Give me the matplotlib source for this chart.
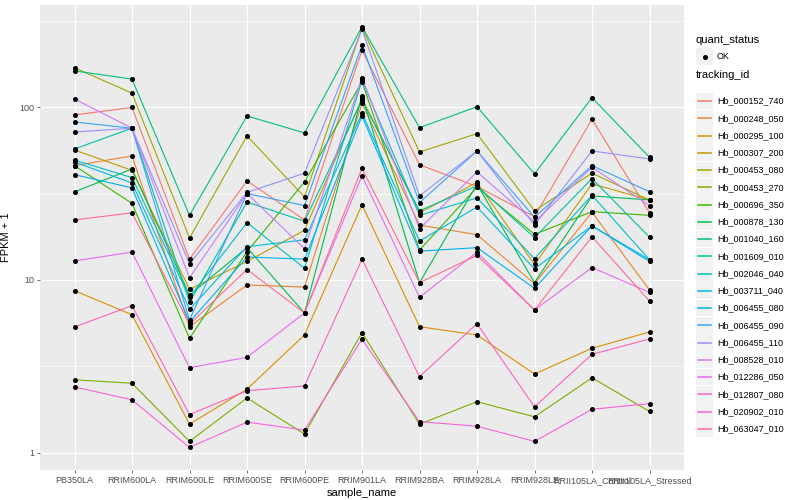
import matplotlib
matplotlib.use("Agg")
import matplotlib.pyplot as plt
from matplotlib.lines import Line2D
from matplotlib.patches import Rectangle
from matplotlib.ticker import FixedLocator, NullFormatter

plt.rcParams['font.family'] = ['Liberation Sans', 'DejaVu Sans']

samples = ["PB350LA", "RRIM600LA", "RRIM600LE", "RRIM600SE", "RRIM600PE",
           "RRIM901LA", "RRIM928BA", "RRIM928LA", "RRIM928LE",
           "RRII105LA_Control", "RRII105LA_Stressed"]

tracking_ids = ["Hb_000152_740", "Hb_000248_050", "Hb_000295_100", "Hb_000307_200",
                "Hb_000453_080", "Hb_000453_270", "Hb_000696_350", "Hb_000878_130",
                "Hb_001040_160", "Hb_001609_010", "Hb_002046_040", "Hb_003711_040",
                "Hb_006455_080", "Hb_006455_090", "Hb_006455_110", "Hb_008528_010",
                "Hb_012286_050", "Hb_012807_080", "Hb_020902_010", "Hb_063047_010"]

# FPKM + 1 values, per gene, across the samples above
hb_000152_740 = [90.5, 100, 13.2, 37.5, 22.3, 215, 46.6, 34.8, 23.3, 85.5, 24.5]
hb_000248_050 = [46.0, 52.4, 5.36, 9.35, 9.10, 106, 20.8, 18.3, 9.52, 24.7, 8.75]
hb_000295_100 = [8.67, 6.29, 1.46, 2.33, 4.80, 27.3, 5.36, 4.80, 2.85, 4.02, 5.00]
hb_000307_200 = [56.7, 43.2, 8.83, 12.8, 19.4, 113, 24.5, 36.8, 12.3, 36.1, 29.1]
hb_000453_080 = [170, 121, 17.5, 68.4, 30.3, 289, 55.2, 70.5, 25.2, 41.6, 29.1]
hb_000453_270 = [2.64, 2.52, 1.16, 2.07, 1.28, 4.95, 1.46, 1.97, 1.61, 2.71, 1.73]
hb_000696_350 = [46.0, 27.8, 4.59, 14.6, 37.0, 141, 14.9, 34.5, 18.4, 24.9, 23.7]
hb_000878_130 = [32.4, 44.0, 8.19, 15.4, 6.44, 117, 9.65, 35.9, 9.65, 30.7, 29.1]
hb_001040_160 = [163, 146, 23.7, 89.3, 71.2, 294, 76.4, 101, 41.2, 114, 51.4]
hb_001609_010 = [57.5, 75.8, 7.43, 28.3, 21.9, 110, 25.2, 35.1, 17.6, 38.7, 17.7]
hb_002046_040 = [49.6, 39.2, 7.94, 21.5, 11.7, 144, 23.7, 29.9, 13.3, 31.0, 13.1]
hb_003711_040 = [48.3, 36.5, 6.76, 15.6, 17.1, 92.5, 16.8, 26.5, 11.6, 20.6, 12.8]
hb_006455_080 = [40.8, 34.2, 5.71, 13.6, 13.2, 89.3, 14.7, 15.4, 8.95, 20.6, 13.1]
hb_006455_090 = [82.4, 75.8, 5.86, 31.7, 27.0, 230, 28.1, 56.0, 23.1, 46.0, 32.5]
hb_006455_110 = [72.1, 75.8, 12.4, 32.2, 41.6, 284, 30.7, 56.0, 20.8, 56.0, 50.3]
hb_008528_010 = [112, 75.8, 10.3, 31.7, 15.2, 149, 19.8, 42.3, 21.7, 45.0, 27.0]
hb_012286_050 = [12.9, 14.5, 3.10, 3.56, 6.44, 40.1, 7.94, 14.5, 6.70, 11.8, 8.48]
hb_012807_080 = [2.40, 2.02, 1.07, 1.50, 1.35, 4.53, 1.51, 1.42, 1.16, 1.78, 1.92]
hb_020902_010 = [5.34, 7.10, 1.66, 2.28, 2.43, 13.2, 2.75, 5.58, 1.84, 3.71, 4.55]
hb_063047_010 = [22.3, 24.5, 5.54, 11.5, 6.44, 44.4, 9.65, 13.9, 6.70, 17.8, 7.55]

series = [hb_000152_740, hb_000248_050, hb_000295_100, hb_000307_200, hb_000453_080,
          hb_000453_270, hb_000696_350, hb_000878_130, hb_001040_160, hb_001609_010,
          hb_002046_040, hb_003711_040, hb_006455_080, hb_006455_090, hb_006455_110,
          hb_008528_010, hb_012286_050, hb_012807_080, hb_020902_010, hb_063047_010]

palette = ["#F8766D", "#EA8331", "#D89000", "#C09B00", "#A3A500", "#7CAE00", "#39B600",
           "#00BB4E", "#00BF7D", "#00C1A3", "#00BFC4", "#00BAE0", "#00B0F6", "#35A2FF",
           "#9590FF", "#C77CFF", "#E76BF3", "#FA62DB", "#FF62BC", "#FF6C91"]

W, H = 800, 500
fig = plt.figure(figsize=(8, 5), dpi=100)
ax = fig.add_axes([40 / W, 30 / H, 644 / W, 465 / H])
ax.set_facecolor("#EBEBEB")

x = list(range(len(samples)))
for vals, col in zip(series, palette):
    ax.plot(x, vals, color=col, lw=0.8, zorder=3)
for vals in series:
    ax.plot(x, vals, ls="none", marker="o", ms=2.6, color="black", zorder=4)

ax.set_yscale("log")
ax.set_ylim(10 ** -0.1014, 10 ** 2.594)
ax.set_xlim(-0.6, len(samples) - 1 + 0.6)
ax.set_xticks(x)
ax.set_xticklabels(samples)
ax.yaxis.set_major_locator(FixedLocator([1, 10, 100]))
ax.set_yticklabels(["1", "10", "100"])
ax.yaxis.set_minor_locator(FixedLocator([10 ** 0.5, 10 ** 1.5, 10 ** 2.5]))
ax.yaxis.set_minor_formatter(NullFormatter())

ax.grid(which="major", color="white", lw=0.9, zorder=0)
ax.grid(which="minor", axis="y", color="white", lw=0.45, zorder=0)
ax.set_axisbelow(True)
for s in ax.spines.values():
    s.set_visible(False)
ax.tick_params(which="major", length=2.2, width=0.5, color="#333333",
               labelsize=6.5, labelcolor="#4D4D4D", pad=2)
ax.tick_params(which="minor", length=0)

ax.set_xlabel("sample_name", fontsize=8, labelpad=2)
ax.set_ylabel("FPKM + 1", fontsize=8, labelpad=6)

# Legend drawn manually, ggplot-style
def fx(px):
    return px / W

def fy(py):
    return 1 - py / H

fig.text(fx(696), fy(40), "quant_status", fontsize=8, va="center", ha="left")
fig.patches.append(Rectangle((fx(696), fy(65)), 17 / W, 17 / H, transform=fig.transFigure,
                             facecolor="#F2F2F2", edgecolor="none"))
fig.lines.append(Line2D([fx(704.5)], [fy(56.5)], marker="o", ms=2.6, color="black",
                        transform=fig.transFigure))
fig.text(fx(717), fy(56.5), "OK", fontsize=6.5, va="center", ha="left")

fig.text(fx(696), fy(75), "tracking_id", fontsize=8, va="center", ha="left")
step = 17.25
for i, (name, col) in enumerate(zip(tracking_ids, palette)):
    cy = 101 + step * i
    fig.patches.append(Rectangle((fx(696), fy(cy + 8.3)), 17 / W, 16.6 / H,
                                 transform=fig.transFigure, facecolor="#F2F2F2",
                                 edgecolor="none"))
    fig.lines.append(Line2D([fx(698), fx(711)], [fy(cy), fy(cy)], color=col, lw=1.1,
                            transform=fig.transFigure))
    fig.text(fx(717), fy(cy), name, fontsize=6.5, va="center", ha="left")

fig.savefig("out.png", dpi=100)
